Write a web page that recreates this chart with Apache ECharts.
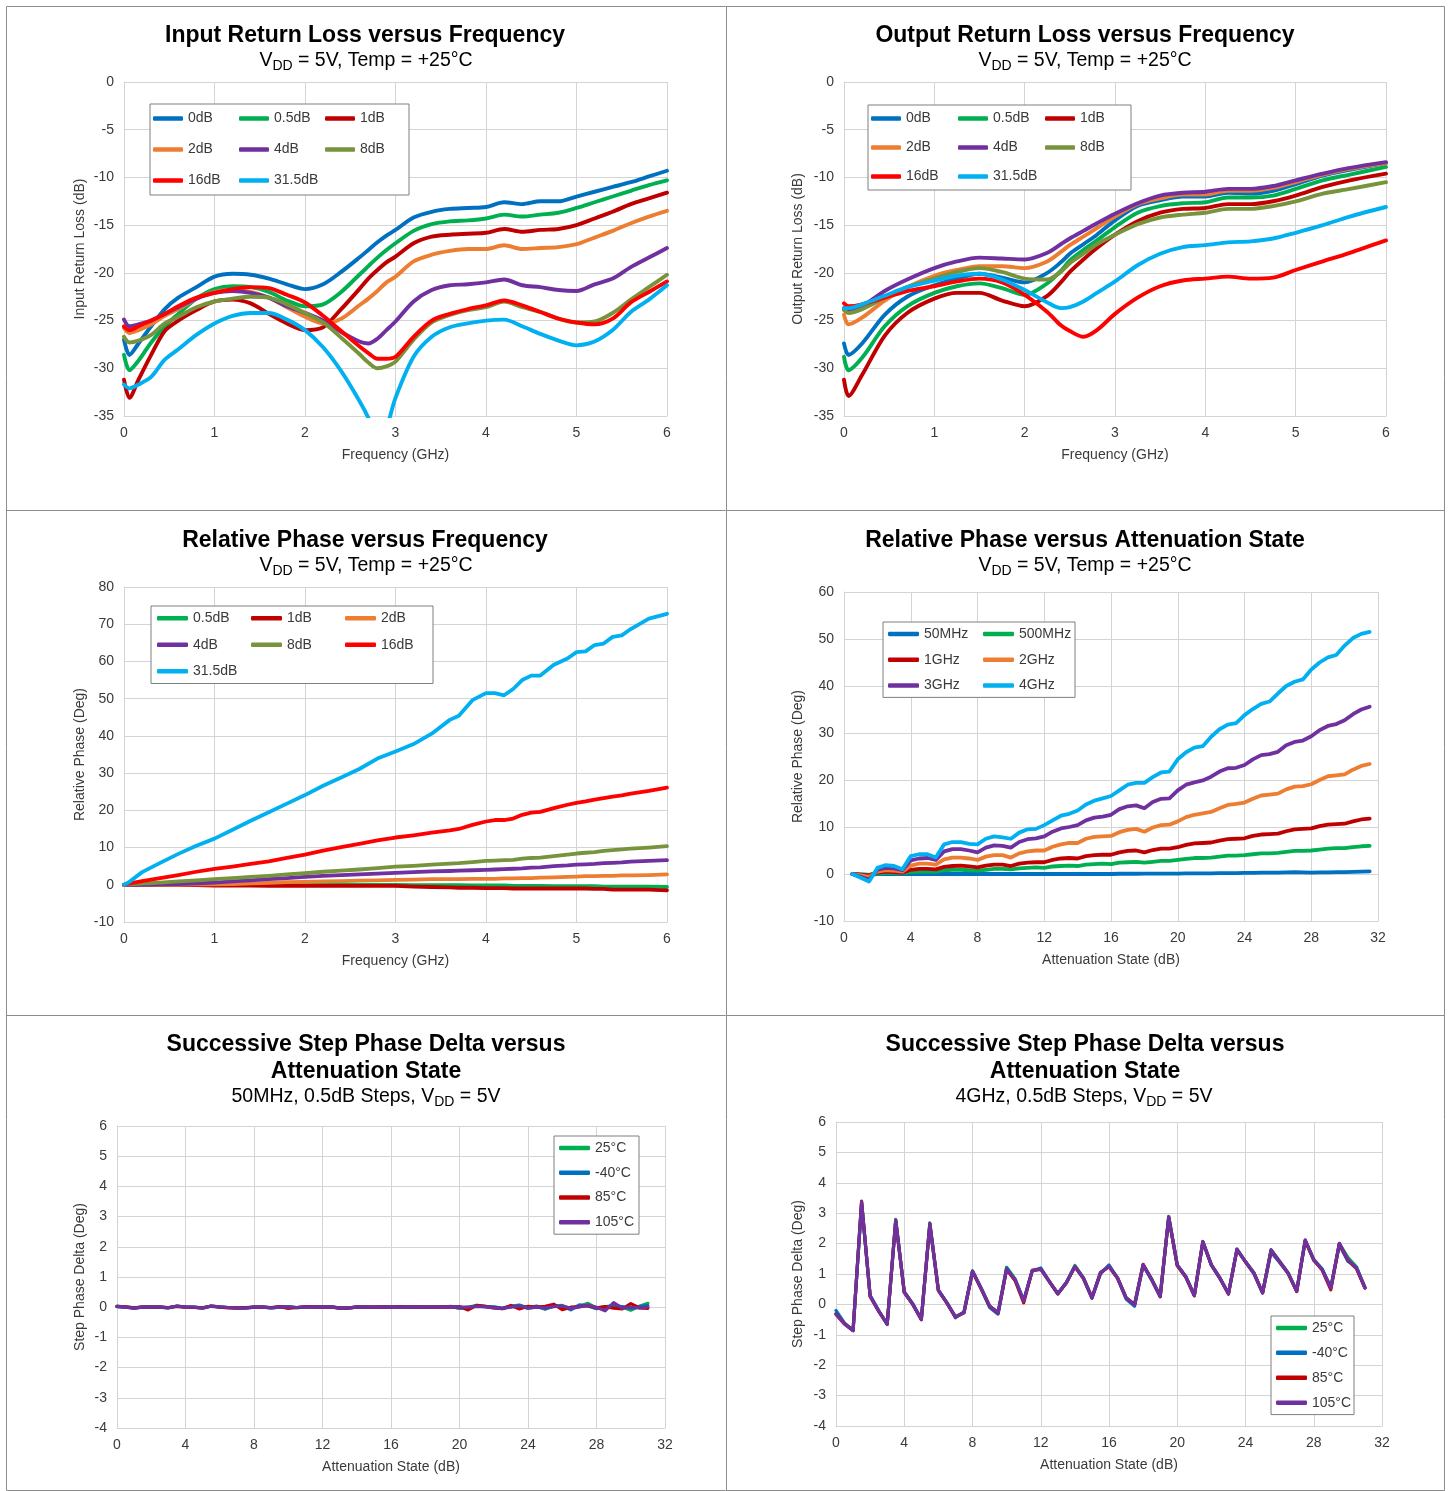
<!DOCTYPE html>
<html>
<head>
<meta charset="utf-8">
<script src="https://cdn.jsdelivr.net/npm/echarts/dist/echarts.min.js"></script>
<style>
  html, body { margin: 0; padding: 0; background: #ffffff; }
  #chart { width: 1449px; height: 1491px; }
</style>
</head>
<body>
<div id="chart"></div>
<script>
// ---------- Input return loss vs frequency (dB) ----------
const irlFreq = [0,0.06,0.16,0.3,0.45,0.6,0.8,1.0,1.2,1.4,1.6,1.8,2.0,2.2,2.4,2.6,2.7,2.8,2.9,3.0,3.2,3.4,3.6,3.8,4.0,4.2,4.4,4.6,4.8,5.0,5.2,5.4,5.6,5.8,6.0];
const irl0dB   = [-27.0,-28.6,-27.4,-25.6,-23.8,-22.6,-21.5,-20.4,-20.1,-20.2,-20.6,-21.2,-21.7,-21.2,-19.9,-18.4,-17.6,-16.8,-16.1,-15.5,-14.2,-13.6,-13.3,-13.2,-13.1,-12.6,-12.8,-12.5,-12.5,-12.0,-11.5,-11.0,-10.5,-9.9,-9.3];
const irl05dB  = [-28.6,-30.2,-29.2,-27.3,-25.6,-24.3,-22.7,-21.7,-21.4,-21.5,-22.0,-22.9,-23.5,-23.3,-22.0,-20.2,-19.3,-18.4,-17.6,-16.9,-15.6,-14.9,-14.6,-14.5,-14.3,-13.9,-14.1,-13.9,-13.7,-13.2,-12.6,-12.0,-11.4,-10.8,-10.3];
const irl1dB   = [-31.2,-33.1,-31.2,-28.6,-26.1,-25.0,-23.9,-23.0,-22.8,-23.2,-24.3,-25.3,-26.0,-25.7,-23.8,-21.7,-20.6,-19.7,-18.9,-18.3,-16.9,-16.2,-16.0,-15.9,-15.8,-15.4,-15.7,-15.5,-15.4,-15.0,-14.3,-13.6,-12.8,-12.2,-11.6];
const irl2dB   = [-25.8,-26.3,-26.0,-25.4,-24.5,-23.8,-22.7,-22.0,-21.8,-22.0,-22.6,-23.6,-24.6,-25.3,-24.8,-23.4,-22.7,-21.9,-21.0,-20.4,-18.8,-18.1,-17.7,-17.5,-17.5,-17.1,-17.5,-17.4,-17.3,-17.0,-16.3,-15.6,-14.8,-14.1,-13.5];
const irl4dB   = [-24.9,-25.6,-25.4,-25.0,-24.3,-23.6,-22.7,-22.1,-21.9,-22.1,-22.6,-23.5,-24.2,-25.0,-26.2,-27.2,-27.4,-26.9,-26.0,-25.1,-23.0,-21.8,-21.3,-21.2,-21.0,-20.7,-21.3,-21.5,-21.8,-21.9,-21.2,-20.6,-19.4,-18.4,-17.4];
const irl8dB   = [-26.7,-27.3,-27.1,-26.5,-25.3,-24.6,-23.6,-23.0,-22.7,-22.5,-22.6,-23.3,-24.2,-25.2,-26.8,-28.5,-29.4,-30.0,-29.8,-29.3,-27.0,-25.2,-24.4,-23.9,-23.6,-23.0,-23.6,-24.1,-24.8,-25.2,-25.1,-24.2,-22.8,-21.5,-20.2];
const irl16dB  = [-25.6,-26.0,-25.6,-25.0,-24.3,-23.5,-22.6,-22.1,-21.7,-21.5,-21.6,-22.3,-23.1,-24.5,-26.1,-27.7,-28.4,-29.0,-29.0,-28.8,-26.7,-25.0,-24.3,-23.8,-23.4,-22.9,-23.4,-24.1,-24.8,-25.2,-25.4,-24.8,-23.1,-22.0,-20.9];
const irl315dB = [-31.7,-32.1,-31.7,-30.9,-29.1,-28.0,-26.5,-25.3,-24.5,-24.2,-24.2,-24.9,-26.0,-27.8,-30.3,-33.4,-35.2,-37.5,-36.2,-33.1,-28.8,-26.7,-25.7,-25.3,-25.0,-24.9,-25.6,-26.4,-27.1,-27.6,-27.2,-26.0,-24.1,-22.8,-21.3];

// ---------- Output return loss vs frequency (dB) ----------
const orlFreq = [0,0.05,0.2,0.45,0.7,1.0,1.25,1.5,1.75,2.0,2.25,2.4,2.5,2.65,2.8,3.0,3.25,3.5,3.75,4.0,4.25,4.5,4.75,5.0,5.3,5.6,6.0];
const orl0dB   = [-27.4,-28.6,-27.4,-24.4,-22.5,-21.3,-20.6,-20.1,-20.5,-21.0,-20.0,-18.9,-18.0,-17.0,-16.0,-14.5,-13.0,-12.4,-12.0,-12.0,-11.6,-11.7,-11.4,-10.7,-9.8,-9.2,-8.5];
const orl05dB  = [-28.8,-30.2,-28.9,-25.6,-23.5,-22.1,-21.4,-21.1,-21.6,-22.3,-21.1,-19.8,-18.7,-17.6,-16.6,-15.2,-13.7,-13.0,-12.7,-12.6,-12.1,-12.1,-11.9,-11.2,-10.3,-9.7,-8.9];
const orl1dB   = [-31.2,-32.9,-30.7,-26.6,-24.2,-22.7,-22.1,-22.1,-22.9,-23.5,-22.4,-21.0,-19.9,-18.6,-17.4,-16.0,-14.6,-13.7,-13.3,-13.2,-12.8,-12.8,-12.5,-11.9,-11.0,-10.3,-9.6];
const orl2dB   = [-24.4,-25.4,-24.7,-22.9,-21.5,-20.3,-19.7,-19.3,-19.3,-19.5,-18.8,-17.8,-17.1,-16.2,-15.3,-14.1,-12.8,-12.2,-11.8,-11.8,-11.4,-11.4,-11.1,-10.5,-9.7,-9.1,-8.5];
const orl4dB   = [-23.7,-23.9,-23.5,-21.9,-20.7,-19.5,-18.8,-18.4,-18.5,-18.6,-17.9,-17.0,-16.4,-15.6,-14.8,-13.8,-12.7,-11.9,-11.6,-11.5,-11.2,-11.2,-10.9,-10.3,-9.6,-9.0,-8.4];
const orl8dB   = [-23.9,-24.2,-23.8,-22.6,-21.5,-20.6,-19.9,-19.5,-19.9,-20.6,-20.7,-19.9,-19.0,-18.0,-17.0,-16.0,-14.9,-14.2,-13.9,-13.7,-13.3,-13.3,-13.0,-12.5,-11.7,-11.2,-10.5];
const orl16dB  = [-23.2,-23.5,-23.3,-22.6,-21.9,-21.4,-20.9,-20.6,-21.0,-22.3,-24.1,-25.5,-26.1,-26.7,-26.0,-24.3,-22.6,-21.4,-20.8,-20.6,-20.4,-20.6,-20.5,-19.7,-18.8,-17.9,-16.6];
const orl315dB = [-23.7,-23.7,-23.3,-22.4,-21.5,-20.8,-20.3,-20.1,-20.7,-21.8,-23.1,-23.7,-23.6,-23.0,-22.1,-20.9,-19.2,-18.0,-17.3,-17.1,-16.8,-16.7,-16.4,-15.8,-15.0,-14.1,-13.1];

// ---------- Relative phase vs frequency (deg) ----------
const phFreq = [0,0.05,0.2,0.4,0.6,0.8,1.0,1.2,1.4,1.6,1.8,2.0,2.2,2.4,2.6,2.8,3.0,3.2,3.4,3.6,3.7,3.85,4.0,4.1,4.2,4.3,4.4,4.5,4.6,4.75,4.9,5.0,5.1,5.2,5.3,5.4,5.5,5.6,5.8,6.0];
const ph05dB  = [0,0,0.1,0.1,0.1,0.1,0.1,0.1,0.1,0.1,0.1,0.1,0.1,0.1,0,0,0,-0.1,-0.1,-0.1,-0.1,-0.2,-0.2,-0.2,-0.2,-0.3,-0.3,-0.3,-0.3,-0.4,-0.4,-0.4,-0.4,-0.4,-0.5,-0.5,-0.5,-0.5,-0.5,-0.6];
const ph1dB   = [0,0,0,-0.1,-0.1,-0.1,-0.2,-0.2,-0.2,-0.3,-0.3,-0.3,-0.3,-0.3,-0.3,-0.3,-0.3,-0.5,-0.6,-0.7,-0.8,-0.8,-0.9,-0.9,-0.9,-1.0,-1.0,-1.0,-1.0,-1.0,-1.0,-1.0,-1.0,-1.1,-1.1,-1.3,-1.3,-1.3,-1.3,-1.5];
const ph2dB   = [0,0,0,0,0,0.1,0.1,0.2,0.4,0.5,0.7,0.8,0.9,1.0,1.1,1.2,1.3,1.4,1.5,1.5,1.5,1.6,1.6,1.6,1.7,1.7,1.8,1.8,1.9,2.0,2.1,2.2,2.3,2.3,2.4,2.4,2.5,2.5,2.6,2.8];
const ph4dB   = [0,0,0,0.1,0.2,0.4,0.6,0.9,1.2,1.5,1.8,2.1,2.4,2.6,2.8,3.0,3.2,3.4,3.6,3.7,3.8,3.9,4.0,4.1,4.2,4.3,4.4,4.6,4.7,5.0,5.2,5.4,5.5,5.6,5.8,5.9,6.0,6.2,6.4,6.6];
const ph8dB   = [0,0.1,0.3,0.6,0.9,1.2,1.5,1.8,2.1,2.4,2.8,3.1,3.5,3.8,4.1,4.5,4.9,5.1,5.4,5.7,5.8,6.1,6.4,6.5,6.6,6.7,7.0,7.2,7.3,7.7,8.1,8.4,8.6,8.8,9.1,9.3,9.5,9.7,10.0,10.4];
const ph16dB  = [0,0.3,1.0,1.8,2.6,3.5,4.3,4.9,5.6,6.3,7.2,8.1,9.2,10.1,11.0,11.9,12.7,13.3,14.0,14.6,15.0,16.1,17.0,17.4,17.4,17.8,18.8,19.4,19.6,20.6,21.5,22.0,22.4,22.9,23.3,23.7,24.0,24.5,25.2,26.1];
const ph315dB = [0,0.6,3.4,5.9,8.3,10.5,12.4,14.8,17.2,19.5,21.8,24.1,26.6,28.8,31.1,33.9,35.8,37.8,40.6,44.3,45.4,49.6,51.5,51.5,50.9,52.6,55.0,56.2,56.2,59.1,60.8,62.5,62.7,64.4,64.8,66.6,67.0,68.7,71.5,72.8];

// ---------- Relative phase vs attenuation state (deg) ----------
const attenStates = [0.5,1,1.5,2,2.5,3,3.5,4,4.5,5,5.5,6,6.5,7,7.5,8,8.5,9,9.5,10,10.5,11,11.5,12,12.5,13,13.5,14,14.5,15,15.5,16,16.5,17,17.5,18,18.5,19,19.5,20,20.5,21,21.5,22,22.5,23,23.5,24,24.5,25,25.5,26,26.5,27,27.5,28,28.5,29,29.5,30,30.5,31,31.5];
const rp50M  = [0,-0.1,-0.2,0,0,0,0,0,0,0, 0,0,0,0,0,0,0,0,0,0, 0,0,0,0,0,0,0,0,0,0, 0,0,0.05,0.05,0.05,0.1,0.1,0.1,0.1,0.1, 0.15,0.15,0.15,0.15,0.2,0.2,0.2,0.25,0.25,0.3, 0.3,0.3,0.35,0.4,0.35,0.3,0.35,0.35,0.4,0.4, 0.45,0.5,0.55];
const rp500M = [0,-0.1,-0.2,0.1,0.2,0.2,0.2,0.4,0.5,0.5, 0.5,0.8,0.9,0.9,0.8,0.7,0.9,1.1,1.1,1.0, 1.2,1.3,1.4,1.3,1.6,1.7,1.8,1.7,2.0,2.1, 2.2,2.1,2.4,2.5,2.6,2.4,2.6,2.8,2.8,3.0, 3.2,3.4,3.4,3.5,3.7,3.9,3.9,4.0,4.2,4.4, 4.4,4.5,4.7,4.9,4.9,5.0,5.2,5.4,5.5,5.5, 5.7,5.9,6.0];
const rp1G   = [0,-0.2,-0.3,0.3,0.5,0.4,0.3,0.9,1.1,1.1, 1.0,1.5,1.7,1.8,1.6,1.4,1.8,2.0,2.0,1.7, 2.2,2.4,2.5,2.5,3.0,3.3,3.4,3.3,3.8,4.0, 4.1,4.1,4.6,4.9,5.0,4.6,5.1,5.4,5.4,5.7, 6.2,6.5,6.6,6.7,7.1,7.4,7.5,7.6,8.1,8.4, 8.5,8.6,9.1,9.5,9.6,9.7,10.2,10.5,10.6,10.7, 11.2,11.6,11.8];
const rp2G   = [0,-0.3,-0.6,0.5,0.8,0.7,0.5,1.8,2.2,2.2, 2.0,3.1,3.5,3.5,3.3,3.0,3.7,4.0,4.0,3.5, 4.4,4.8,5.0,5.0,5.8,6.3,6.6,6.6,7.5,7.9, 8.0,8.1,8.9,9.4,9.6,9.0,9.9,10.4,10.5,11.2, 12.1,12.6,12.9,13.2,14.0,14.7,14.9,15.2,16.0,16.7, 16.9,17.1,18.0,18.6,18.7,19.1,20.0,20.8,21.0,21.2, 22.2,23.0,23.4];
const rp3G   = [0,-0.6,-1.2,0.9,1.3,1.2,0.8,2.9,3.3,3.4, 3.0,4.8,5.3,5.3,5.0,4.6,5.6,6.1,6.0,5.6, 6.8,7.4,7.6,8.0,9.0,9.7,10.0,10.4,11.4,12.0, 12.2,12.6,13.8,14.4,14.6,14.0,15.3,16.0,16.1,17.8, 19.0,19.5,19.9,20.7,21.8,22.5,22.6,23.2,24.4,25.3, 25.5,26.0,27.4,28.1,28.4,29.3,30.6,31.5,31.9,32.7, 34.0,35.0,35.6];
const rp4G   = [0,-0.8,-1.6,1.3,1.9,1.7,1.0,3.8,4.2,4.2, 3.5,6.3,6.8,6.8,6.4,6.3,7.5,8.0,7.8,7.5, 8.8,9.5,9.6,10.4,11.4,12.4,12.8,13.5,14.8,15.6, 16.1,16.6,17.8,19.0,19.4,19.4,20.6,21.6,21.8,24.4, 25.9,26.9,27.2,29.2,30.8,31.8,32.1,33.8,35.1,36.2, 36.7,38.4,40.0,40.9,41.4,43.5,45.0,46.1,46.6,48.6, 50.2,51.1,51.5];

// ---------- Successive step phase delta (deg), 0.5 dB steps ----------
const stepStates = [0,0.5,1,1.5,2,2.5,3,3.5,4,4.5,5,5.5,6,6.5,7,7.5,8,8.5,9,9.5,10,10.5,11,11.5,12,12.5,13,13.5,14,14.5,15,15.5,16,16.5,17,17.5,18,18.5,19,19.5,20,20.5,21,21.5,22,22.5,23,23.5,24,24.5,25,25.5,26,26.5,27,27.5,28,28.5,29,29.5,30,30.5,31];
// 50 MHz
const sd50M_25C  = [0.03,0.01,-0.02,0,0.01,0,-0.02,0.04,0,0, -0.02,0.04,0.01,-0.01,-0.03,-0.02,0,0,-0.02,0, 0.02,-0.02,0.01,0.02,0,0.02,-0.03,-0.03,0,0, 0,0.01,0,0,0.01,0.01,0,0.01,0,0.03, -0.04,0,0.06,0.03,0,-0.05,0.04,0.07,-0.04,0.02, -0.07,0.04,0.06,-0.05,0.03,0.13,-0.03,0.01,0.06,0.01, -0.1,0.03,0.13];
const sd50M_m40C = [0.02,0,-0.03,0,0,0.01,-0.02,0.03,0.01,0, -0.03,0.03,0,-0.01,-0.02,-0.03,0,0.01,-0.02,0.01, 0.01,-0.01,0,0,0.01,0.01,-0.04,-0.02,0,0.01, 0,0,0.01,0,0,0,0.01,0,0.01,0.02, -0.03,-0.02,0.05,0.02,0.01,-0.03,0.02,0.06,-0.02,0.04, -0.05,0.03,0.04,-0.09,0.08,0.04,-0.05,0,0.04,0.02, -0.04,0.02,0.05];
const sd50M_85C  = [0.03,0.01,-0.02,0.01,0,0,-0.01,0.03,0,-0.01, -0.02,0.04,0,-0.02,-0.02,-0.01,0,0,-0.01,0.02, -0.04,-0.01,0.02,0.01,0,0,-0.02,-0.03,0.01,0, 0,0.01,0,0.02,0,0.01,0,0,0.01,0, 0.02,-0.09,0.06,0.03,-0.02,-0.05,0.06,-0.06,0.03,0, 0.03,0.1,-0.08,0,0.02,0.05,-0.02,0.02,-0.03,-0.06, 0.12,-0.02,-0.04];
const sd50M_105C = [0.03,0,-0.03,0,0,0,-0.02,0.04,0,0, -0.03,0.04,0.01,-0.01,-0.03,-0.03,0,0,-0.02,0, 0.01,-0.01,0,0.01,0,0.01,-0.02,-0.02,0,0, 0,0,0,0,0,0,0,0,0,0.02, 0,0,0.03,0.01,-0.02,-0.04,0,0.04,-0.03,0, -0.02,0.02,0.04,-0.04,0.01,0.07,0,-0.12,0.15,-0.03, 0,-0.02,0];
// 4 GHz
const sd4G_25C  = [-0.3,-0.63,-0.86,3.35,0.28,-0.21,-0.64,2.8,0.4,0, -0.48,2.68,0.46,0.05,-0.4,-0.26,1.1,0.55,-0.06,-0.26, 1.22,0.84,0.12,1.1,1.18,0.76,0.34,0.72,1.28,0.88, 0.22,1.04,1.26,0.88,0.22,0,1.3,0.84,0.28,2.9, 1.3,0.92,0.3,2.06,1.3,0.88,0.35,1.82,1.4,1.04, 0.38,1.8,1.42,1.04,0.44,2.1,1.48,1.16,0.55,2.0, 1.55,1.24,0.56];
const sd4G_m40C = [-0.2,-0.62,-0.85,3.3,0.3,-0.2,-0.66,2.75,0.42,0.02, -0.5,2.6,0.48,0.06,-0.44,-0.25,1.1,0.52,-0.1,-0.32, 1.2,0.8,0.14,1.1,1.2,0.75,0.36,0.72,1.25,0.85, 0.2,1.0,1.3,0.86,0.18,-0.06,1.28,0.8,0.25,2.85, 1.28,0.9,0.3,2.05,1.28,0.85,0.36,1.8,1.4,1.0, 0.38,1.72,1.38,1.02,0.44,2.1,1.45,1.15,0.56,1.95, 1.42,1.22,0.56];
const sd4G_85C  = [-0.32,-0.64,-0.86,3.4,0.26,-0.22,-0.65,2.75,0.4,0, -0.5,2.65,0.45,0.04,-0.42,-0.28,1.08,0.52,-0.05,-0.28, 1.15,0.78,0.05,1.12,1.15,0.76,0.35,0.7,1.24,0.86, 0.22,1.04,1.24,0.86,0.22,0,1.32,0.82,0.26,2.86, 1.28,0.9,0.28,2.06,1.3,0.86,0.34,1.8,1.4,1.02, 0.38,1.78,1.4,1.02,0.42,2.1,1.46,1.12,0.48,2.0, 1.45,1.18,0.54];
const sd4G_105C = [-0.33,-0.65,-0.87,3.37,0.27,-0.22,-0.65,2.77,0.4,0, -0.49,2.66,0.46,0.05,-0.41,-0.27,1.09,0.54,-0.05,-0.27, 1.16,0.82,0.11,1.12,1.16,0.76,0.35,0.71,1.25,0.87, 0.22,1.05,1.25,0.87,0.22,0,1.3,0.82,0.27,2.88, 1.3,0.92,0.29,2.07,1.3,0.87,0.35,1.82,1.41,1.03, 0.38,1.79,1.41,1.03,0.43,2.12,1.47,1.14,0.54,2.01, 1.47,1.2,0.54];

// ---------- axis tick settings ----------
const freqTicks  = { min: 0, max: 6, interval: 1 };
const attenTicks = { min: 0, max: 32, interval: 4 };
const rlTicks    = { min: -35, max: 0, interval: 5 };
const phTicks    = { min: -10, max: 80, interval: 10 };
const rpTicks    = { min: -10, max: 60, interval: 10 };
const sdTicks    = { min: -4, max: 6, interval: 1 };

// ---------- styling ----------
const FONT = '"Liberation Sans", Arial, Helvetica, sans-serif';
const TXT = '#3a3a3a';
const GRIDC = '#d4d4d4';
const FRAME = '#8c8c8c';
const COL = {
  blue: '#0070C0', green: '#00B050', darkRed: '#C00000', orange: '#ED7D31',
  purple: '#7030A0', olive: '#77933C', red: '#FF0000', sky: '#00B0F0'
};

const grids = [
  { left: 124, top: 82,   width: 543, height: 334 },
  { left: 844, top: 82,   width: 542, height: 334 },
  { left: 124, top: 587,  width: 543, height: 335 },
  { left: 844, top: 592,  width: 534, height: 329 },
  { left: 117, top: 1126, width: 548, height: 302 },
  { left: 836, top: 1122, width: 546, height: 304 }
];

function axis(gridIndex, ticks, name, nameGap) {
  return {
    type: 'value', gridIndex,
    min: ticks.min, max: ticks.max, interval: ticks.interval,
    name, nameLocation: 'middle', nameGap,
    nameTextStyle: { fontFamily: FONT, fontSize: 14, color: TXT },
    axisLine: { show: true, onZero: false, lineStyle: { color: GRIDC, width: 1 } },
    axisTick: { show: false },
    axisLabel: { fontFamily: FONT, fontSize: 14, color: TXT, margin: 10 },
    splitLine: { show: true, lineStyle: { color: GRIDC, width: 1 } }
  };
}

function line(name, xs, ys, color, g, width, smooth) {
  return {
    type: 'line', name, xAxisIndex: g, yAxisIndex: g,
    data: xs.map((x, i) => [x, ys[i]]),
    showSymbol: false, symbol: 'none', smooth: smooth || false,
    color, itemStyle: { color },
    lineStyle: { color, width: width || 3.5, cap: 'round', join: 'round' },
    clip: true, silent: true, animation: false
  };
}

function legendBox(opt) {
  const ts = Object.assign({ fontFamily: FONT, fontSize: 14, color: TXT }, opt.textStyle || {});
  const o = Object.assign({
    orient: 'horizontal', icon: 'roundRect', itemWidth: 30, itemHeight: 4.5,
    backgroundColor: '#ffffff', borderColor: '#7f7f7f', borderWidth: 1, borderRadius: 0,
    selectedMode: false, align: 'left', itemStyle: { borderWidth: 0 }
  }, opt);
  o.textStyle = ts;
  return o;
}

function titleText(x, y, text, size, bold) {
  return {
    type: 'text', x, y, silent: true,
    style: {
      text, fill: '#000000', fontFamily: FONT, fontSize: size, fontWeight: bold ? 'bold' : 'normal',
      align: 'center', verticalAlign: 'middle', textAlign: 'center', textVerticalAlign: 'middle'
    }
  };
}

function subText(x, y, before, after) {
  return {
    type: 'text', x, y, silent: true,
    style: {
      text: '{n|' + before + 'V}{s|DD}{n|' + after + '}',
      align: 'center', verticalAlign: 'middle', textAlign: 'center', textVerticalAlign: 'middle',
      rich: {
        n: { fontFamily: FONT, fontSize: 19.5, lineHeight: 24, fill: '#000000' },
        s: { fontFamily: FONT, fontSize: 14, lineHeight: 14, verticalAlign: 'bottom', fill: '#000000' }
      }
    }
  };
}

const rlNames = ['0dB', '0.5dB', '1dB', '2dB', '4dB', '8dB', '16dB', '31.5dB'];
const rlColors = [COL.blue, COL.green, COL.darkRed, COL.orange, COL.purple, COL.olive, COL.red, COL.sky];
const irlSeries = [irl0dB, irl05dB, irl1dB, irl2dB, irl4dB, irl8dB, irl16dB, irl315dB];
const orlSeries = [orl0dB, orl05dB, orl1dB, orl2dB, orl4dB, orl8dB, orl16dB, orl315dB];
const phNames = ['0.5dB', '1dB', '2dB', '4dB', '8dB', '16dB', '31.5dB'];
const phColors = [COL.green, COL.darkRed, COL.orange, COL.purple, COL.olive, COL.red, COL.sky];
const phSeries = [ph05dB, ph1dB, ph2dB, ph4dB, ph8dB, ph16dB, ph315dB];
const rpNames = ['50MHz', '500MHz', '1GHz', '2GHz', '3GHz', '4GHz'];
const rpColors = [COL.blue, COL.green, COL.darkRed, COL.orange, COL.purple, COL.sky];
const rpSeries = [rp50M, rp500M, rp1G, rp2G, rp3G, rp4G];
const tNames = ['25°C', '-40°C', '85°C', '105°C'];
const tColors = [COL.green, COL.blue, COL.darkRed, COL.purple];
const sd50Series = [sd50M_25C, sd50M_m40C, sd50M_85C, sd50M_105C];
const sd4GSeries = [sd4G_25C, sd4G_m40C, sd4G_85C, sd4G_105C];

const series = [];
rlNames.forEach((n, i) => series.push(line(n, irlFreq, irlSeries[i], rlColors[i], 0, 3.9, 0.3)));
rlNames.forEach((n, i) => series.push(line(n, orlFreq, orlSeries[i], rlColors[i], 1, 3.9, 0.3)));
phNames.forEach((n, i) => series.push(line(n, phFreq, phSeries[i], phColors[i], 2, 3.8)));
rpNames.forEach((n, i) => series.push(line(n, attenStates, rpSeries[i], rpColors[i], 3, 3.8)));
tNames.forEach((n, i) => series.push(line(n, stepStates, sd50Series[i], tColors[i], 4, 3.2)));
tNames.forEach((n, i) => series.push(line(n, stepStates, sd4GSeries[i], tColors[i], 5, 3.2)));

const option = {
  animation: false,
  backgroundColor: '#ffffff',
  textStyle: { fontFamily: FONT },
  grid: grids,
  xAxis: [
    axis(0, freqTicks, 'Frequency (GHz)', 32),
    axis(1, freqTicks, 'Frequency (GHz)', 32),
    axis(2, freqTicks, 'Frequency (GHz)', 32),
    axis(3, attenTicks, 'Attenuation State (dB)', 32),
    axis(4, attenTicks, 'Attenuation State (dB)', 32),
    axis(5, attenTicks, 'Attenuation State (dB)', 32)
  ],
  yAxis: [
    axis(0, rlTicks, 'Input Return Loss (dB)', 37),
    axis(1, rlTicks, 'Output Return Loss (dB)', 39),
    axis(2, phTicks, 'Relative Phase (Deg)', 37),
    axis(3, rpTicks, 'Relative Phase (Deg)', 39),
    axis(4, sdTicks, 'Step Phase Delta (Deg)', 30),
    axis(5, sdTicks, 'Step Phase Delta (Deg)', 31)
  ],
  legend: [
    legendBox({ left: 150, top: 104, width: 262, padding: [1, 2, 1, 3], itemGap: 4,
      textStyle: { width: 47, lineHeight: 27 }, data: rlNames }),
    legendBox({ left: 868, top: 105, width: 266, padding: [1, 3, 1, 3], itemGap: 4,
      textStyle: { width: 48, lineHeight: 25 }, data: rlNames }),
    legendBox({ left: 151, top: 606, width: 300, padding: [2, 0, 2, 6], itemGap: 6, itemWidth: 31,
      textStyle: { width: 52, lineHeight: 20.5 }, data: phNames }),
    legendBox({ left: 883, top: 622, width: 200, padding: [1, 1, 1, 5], itemGap: 4, itemWidth: 31,
      textStyle: { width: 55, lineHeight: 21.8 }, data: rpNames }),
    legendBox({ left: 554, top: 1136, orient: 'vertical', padding: [1.5, 3, 1.5, 5], itemGap: 4, itemWidth: 31,
      textStyle: { width: 41, lineHeight: 20.8 }, data: tNames }),
    legendBox({ left: 1271, top: 1316, orient: 'vertical', padding: [1.5, 2, 1.5, 5], itemGap: 4, itemWidth: 31,
      textStyle: { width: 40, lineHeight: 20.9 }, data: tNames })
  ],
  graphic: [
    { type: 'rect', silent: true, shape: { x: 6.5, y: 6.5, width: 1438, height: 1484 },
      style: { fill: null, stroke: FRAME, lineWidth: 1 } },
    { type: 'line', silent: true, shape: { x1: 726.5, y1: 6.5, x2: 726.5, y2: 1490.5 }, style: { stroke: FRAME, lineWidth: 1 } },
    { type: 'line', silent: true, shape: { x1: 6.5, y1: 510.5, x2: 1444.5, y2: 510.5 }, style: { stroke: FRAME, lineWidth: 1 } },
    { type: 'line', silent: true, shape: { x1: 6.5, y1: 1015.5, x2: 1444.5, y2: 1015.5 }, style: { stroke: FRAME, lineWidth: 1 } },

    titleText(365, 36, 'Input Return Loss versus Frequency', 23, true),
    subText(366, 61, '', ' = 5V, Temp = +25°C'),
    titleText(1085, 36, 'Output Return Loss versus Frequency', 23, true),
    subText(1085, 61, '', ' = 5V, Temp = +25°C'),
    titleText(365, 541, 'Relative Phase versus Frequency', 23, true),
    subText(366, 566, '', ' = 5V, Temp = +25°C'),
    titleText(1085, 541, 'Relative Phase versus Attenuation State', 23, true),
    subText(1085, 566, '', ' = 5V, Temp = +25°C'),
    titleText(366, 1045, 'Successive Step Phase Delta versus', 23, true),
    titleText(366, 1072, 'Attenuation State', 23, true),
    subText(366, 1097, '50MHz, 0.5dB Steps, ', ' = 5V'),
    titleText(1085, 1045, 'Successive Step Phase Delta versus', 23, true),
    titleText(1085, 1072, 'Attenuation State', 23, true),
    subText(1084, 1097, '4GHz, 0.5dB Steps, ', ' = 5V')
  ],
  series
};

const chart = echarts.init(document.getElementById('chart'), null, { renderer: 'canvas' });
chart.setOption(option);
</script>
</body>
</html>
